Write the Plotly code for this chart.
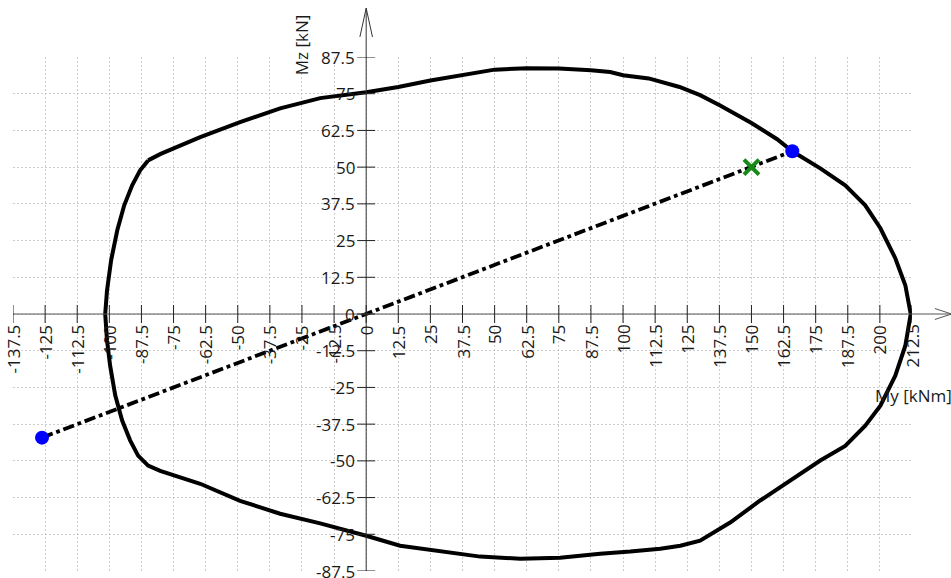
import plotly.graph_objects as go

# ---------------- data ----------------
contour_my = [-84.9, -80, -64.6, -49.1, -33.5, -17.9, 0, 12.5, 25, 37.5, 50, 62.5, 75, 87.5, 95, 100,
              110, 122, 130, 137.8, 150, 160, 165.9, 176.8, 186.5, 194.3, 200.2, 206, 209.9, 212,
              209.9, 206, 200.2, 194.3, 186.5, 176.8, 165.1, 153.4, 141.7, 130, 122.3, 114.5, 102.8,
              91.1, 75.5, 60, 44.4, 28.8, 13.2, 0, -17.9, -33.5, -49.1, -64.6, -80.2, -84.9, -88.8,
              -91.9, -95, -97.7, -99.7, -100.9, -101.6, -100.9, -99.3, -96.9, -94.2, -91.1, -88, -84.9]
contour_mz = [52.3, 54.5, 60.2, 65.3, 70, 73.5, 75.5, 77.3, 79.5, 81.5, 83.2, 83.7, 83.6, 83.0, 82.4, 81.3,
              80.2, 77.3, 74.5, 71, 65, 59.5, 55.4, 49.6, 43.8, 37, 29.2, 19, 9.8, 0,
              -10.8, -21, -31.2, -38, -44.9, -49.9, -56.7, -63.5, -71, -77.2, -78.9, -79.9, -80.9,
              -81.6, -83, -83.3, -82.6, -80.9, -78.9, -75.5, -71.3, -68, -63.6, -57.8, -53.4, -51.6, -48.2,
              -43, -36.3, -27.7, -17.5, -9, 0, 8, 18.3, 28.5, 37, 43.8, 48.9, 52.3]

ray_my = [-126.2, 165.9]
ray_mz = [-42.1, 55.4]
load_my = [150]
load_mz = [50]

x_ticks = [-137.5, -125, -112.5, -100, -87.5, -75, -62.5, -50, -37.5, -25, -12.5, 0, 12.5, 25, 37.5,
           50, 62.5, 75, 87.5, 100, 112.5, 125, 137.5, 150, 162.5, 175, 187.5, 200, 212.5]
y_ticks = [87.5, 75, 62.5, 50, 37.5, 25, 12.5, 0, -12.5, -25, -37.5, -50, -62.5, -75, -87.5]

def fmt(v):
    return ("%g" % v)

X_RANGE = [-137.5, 212.5]
Y_RANGE = [-87.5, 87.5]
FONT = "Open Sans"
FS = 17
TXT = "#1a1a1a"

def px(x):
    return (x - X_RANGE[0]) / (X_RANGE[1] - X_RANGE[0])

def py(y):
    return (y - Y_RANGE[0]) / (Y_RANGE[1] - Y_RANGE[0])

fig = go.Figure()

fig.add_trace(go.Scatter(x=contour_my, y=contour_mz, mode="lines",
                         line=dict(color="black", width=4), hoverinfo="skip"))
fig.add_trace(go.Scatter(x=ray_my, y=ray_mz, mode="lines",
                         line=dict(color="black", width=3.8, dash="dashdot"), hoverinfo="skip"))
fig.add_trace(go.Scatter(x=ray_my, y=ray_mz, mode="markers",
                         marker=dict(color="#0000ff", size=14), hoverinfo="skip"))
fig.add_trace(go.Scatter(x=load_my, y=load_mz, mode="markers",
                         marker=dict(symbol="x-thin", size=15, color="#168a16",
                                     line=dict(color="#168a16", width=4)), hoverinfo="skip"))

shapes = []
ax0 = px(0)
ay0 = py(0)
shapes.append(dict(type="line", xref="paper", yref="paper", x0=ax0, x1=ax0, y0=0, y1=1.095,
                   line=dict(color="#333333", width=1), layer="above"))
shapes.append(dict(type="path", xref="paper", yref="paper",
                   path="M %f,%f L %f,%f L %f,%f" % (ax0 - 0.007, 1.039, ax0, 1.095, ax0 + 0.007, 1.039),
                   line=dict(color="#333333", width=1), layer="above"))
shapes.append(dict(type="line", xref="paper", yref="paper", x0=0, x1=1.044, y0=ay0, y1=ay0,
                   line=dict(color="#555555", width=1), layer="above"))
shapes.append(dict(type="path", xref="paper", yref="paper",
                   path="M %f,%f L %f,%f L %f,%f" % (1.0254, ay0 + 0.0107, 1.044, ay0, 1.0254, ay0 - 0.0107),
                   line=dict(color="#555555", width=1), layer="above"))
for v in x_ticks:
    shapes.append(dict(type="line", xref="x", yref="y", x0=v, x1=v, y0=-3.07, y1=3.07,
                       line=dict(color="#222222", width=1), layer="above"))
for v in y_ticks:
    shapes.append(dict(type="line", xref="x", yref="y", x0=-3.5, x1=3.5, y0=v, y1=v,
                       line=dict(color="#222222", width=1), layer="above"))

ann = []
for v in x_ticks:
    ann.append(dict(x=v, y=0, xref="x", yref="y", text=fmt(v), showarrow=False, textangle=-90,
                    xanchor="center", yanchor="top", yshift=-11, borderpad=0, borderwidth=0,
                    font=dict(family=FONT, size=FS, color=TXT)))
for v in y_ticks:
    ann.append(dict(x=0, y=v, xref="x", yref="y", text=fmt(v), showarrow=False,
                    xanchor="right", yanchor="middle", xshift=-11, borderpad=0, borderwidth=0,
                    font=dict(family=FONT, size=FS, color=TXT)))
ann.append(dict(x=0, y=(571 - 45) / 514, xref="x", yref="paper", text="Mz [kN]", showarrow=False,
                textangle=-90, xanchor="center", yanchor="middle", xshift=-65,
                font=dict(family=FONT, size=FS, color=TXT)))
ann.append(dict(x=(874 - 13) / 899, y=-27.7, xref="paper", yref="y", text="My [kNm]", showarrow=False,
                xanchor="left", yanchor="middle", borderpad=0,
                font=dict(family=FONT, size=FS, color=TXT)))

grid = dict(showgrid=True, gridcolor="#cccccc", gridwidth=1, griddash="2px,2px",
            zeroline=False, showline=False, showticklabels=False, ticks="",
            tick0=0, dtick=12.5, fixedrange=True)

fig.update_layout(
    width=951, height=578,
    margin=dict(l=13, r=39, t=57, b=7),
    paper_bgcolor="white", plot_bgcolor="white",
    showlegend=False,
    xaxis=dict(range=X_RANGE, **grid),
    yaxis=dict(range=Y_RANGE, **grid),
    shapes=shapes, annotations=ann,
)

fig.write_html("out.html", config={"displayModeBar": False},
               post_script="document.body.style.margin='0';document.body.style.overflow='hidden';")
